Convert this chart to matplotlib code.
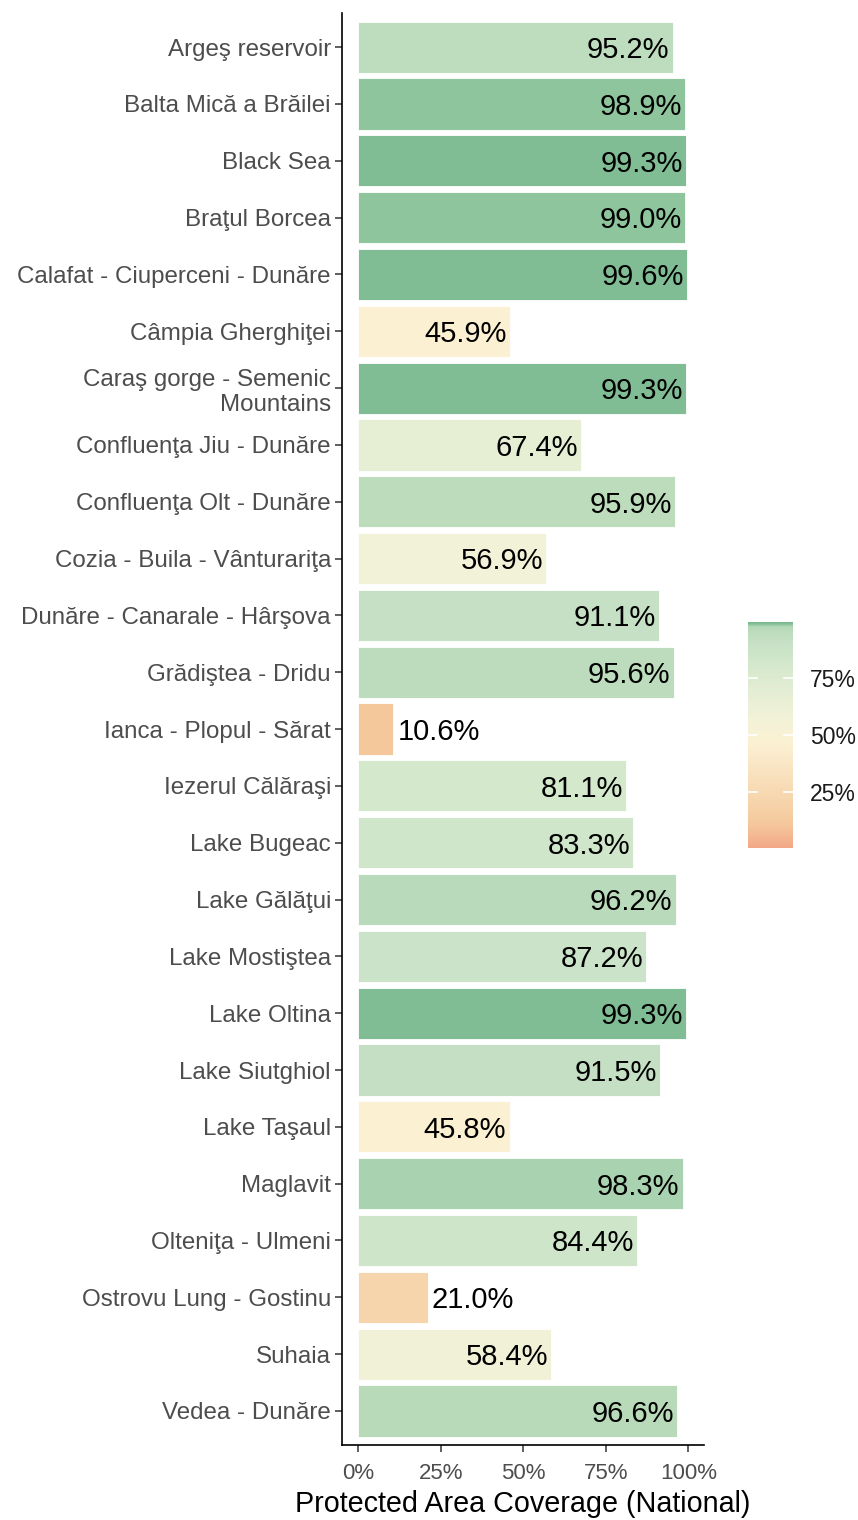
import matplotlib
matplotlib.use("Agg")
import matplotlib.pyplot as plt
from matplotlib.colors import LinearSegmentedColormap, Normalize
from matplotlib.cm import ScalarMappable

plt.rcParams['font.family'] = ['Liberation Sans', 'DejaVu Sans']

sites = [
    "Argeş reservoir", "Balta Mică a Brăilei", "Black Sea", "Braţul Borcea",
    "Calafat - Ciuperceni - Dunăre", "Câmpia Gherghiţei",
    "Caraş gorge - Semenic\nMountains", "Confluenţa Jiu - Dunăre",
    "Confluenţa Olt - Dunăre", "Cozia - Buila - Vânturariţa",
    "Dunăre - Canarale - Hârşova", "Grădiştea - Dridu", "Ianca - Plopul - Sărat",
    "Iezerul Călăraşi", "Lake Bugeac", "Lake Gălăţui", "Lake Mostiştea",
    "Lake Oltina", "Lake Siutghiol", "Lake Taşaul", "Maglavit",
    "Olteniţa - Ulmeni", "Ostrovu Lung - Gostinu", "Suhaia", "Vedea - Dunăre",
]
coverage = [95.2, 98.9, 99.3, 99.0, 99.6, 45.9, 99.3, 67.4, 95.9, 56.9,
            91.1, 95.6, 10.6, 81.1, 83.3, 96.2, 87.2, 99.3, 91.5, 45.8,
            98.3, 84.4, 21.0, 58.4, 96.6]

# colour ramp (salmon -> cream -> green)
stops = [(0.00, "#f2a888"), (0.106, "#f5c89c"), (0.21, "#f6d5ac"),
         (0.46, "#fbf0d2"), (0.57, "#f2f2d8"), (0.674, "#e6eed4"),
         (0.81, "#d4e8cc"), (0.911, "#c6e0c6"), (0.962, "#bcdcbc"),
         (0.983, "#aed6b4"), (0.989, "#98caa0"), (0.993, "#8cc49c"),
         (0.996, "#80bc94"), (1.00, "#78b88e")]
cmap = LinearSegmentedColormap.from_list("cov", stops)
norm = Normalize(0, 100)

fig = plt.figure(figsize=(8.58, 15.2), dpi=100)
ax = fig.add_axes([0.3986, 0.0493, 0.4214, 0.9421])

n = len(sites)
ypos = list(range(n))[::-1]
ax.barh(ypos, coverage, height=0.9, color=[cmap(norm(v)) for v in coverage],
        edgecolor="white", linewidth=0.6)

for y, v in zip(ypos, coverage):
    if v > 30:
        ax.text(v - 1, y - 0.05, f"{v:.1f}%", ha="right", va="center", fontsize=21, color="black")
    else:
        ax.text(v + 1.2, y - 0.05, f"{v:.1f}%", ha="left", va="center", fontsize=21, color="black")

ax.set_yticks(ypos)
ax.set_yticklabels(sites, fontsize=17.4, color="#4d4d4d")
ax.set_ylim(-0.6, n - 0.4)
ax.set_xlim(-4.98, 104.58)
ax.set_xticks([0, 25, 50, 75, 100])
ax.set_xticklabels(["0%", "25%", "50%", "75%", "100%"], fontsize=16, color="#4d4d4d")
ax.set_xlabel("Protected Area Coverage (National)", fontsize=20.7, color="black", labelpad=4)
for s in ["top", "right"]:
    ax.spines[s].set_visible(False)
for s in ["left", "bottom"]:
    ax.spines[s].set_linewidth(1.2)
ax.tick_params(axis="y", length=5, width=1.1, color="#333333", pad=3)
ax.tick_params(axis="x", length=5, width=1.1, color="#333333", pad=8)

cax = fig.add_axes([0.8718, 0.4421, 0.0524, 0.1487])
cb = fig.colorbar(ScalarMappable(norm=norm, cmap=cmap), cax=cax, ticks=[25, 50, 75])
cb.outline.set_visible(False)
cb.ax.set_yticklabels(["25%", "50%", "75%"], fontsize=16.5, color="#1a1a1a")
cb.ax.tick_params(length=0, pad=12)
for t in [25, 50, 75]:
    cb.ax.plot([0, 0.2], [t, t], color="white", lw=1.2)
    cb.ax.plot([0.8, 1.0], [t, t], color="white", lw=1.2)

fig.savefig("out.png", dpi=100)
